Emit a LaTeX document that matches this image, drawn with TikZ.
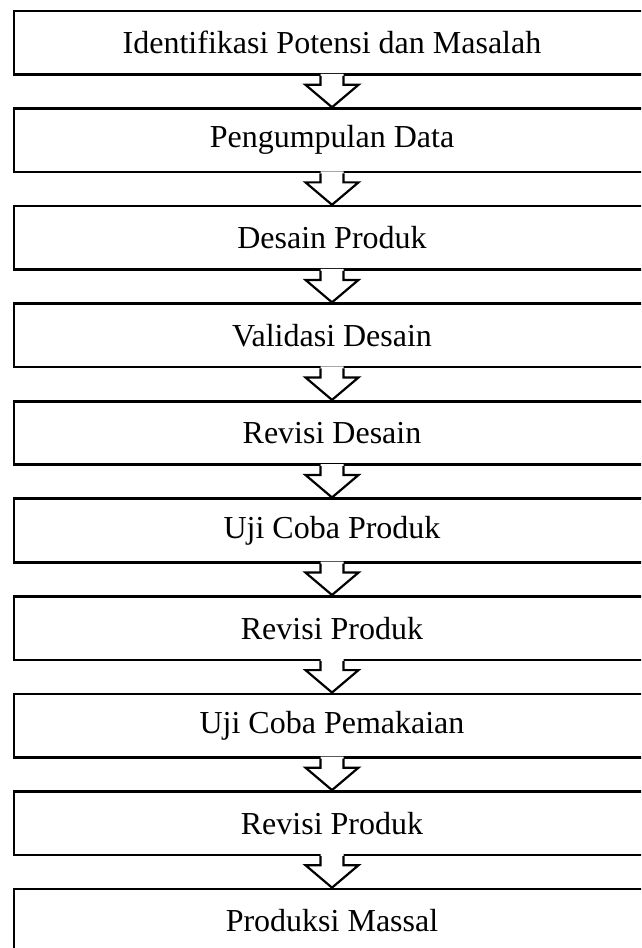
\documentclass[tikz,border=0pt]{standalone}
\usepackage{fontspec}
\setmainfont{Liberation Serif}

\tikzstyle{box} = [draw, line width=2.6pt, minimum width=636pt, minimum height=63.5pt, font=\fontsize{32}{38}\selectfont]
\tikzstyle{arrow} = [line width=2.2pt, line join=miter]

\newcommand{\blockarrow}[2]{%
\fill [white] ([xshift=-11.5pt, yshift=2pt]#1.south) -- ([xshift=-11.5pt, yshift=-9pt]#1.south) -- ([xshift=-26.5pt, yshift=-9pt]#1.south) -- (#2.north) -- ([xshift=26.5pt, yshift=-9pt]#1.south) -- ([xshift=11.5pt, yshift=-9pt]#1.south) -- ([xshift=11.5pt, yshift=2pt]#1.south) -- cycle;
\draw [arrow] ([xshift=-11.5pt]#1.south) -- ([xshift=-11.5pt, yshift=-9pt]#1.south) -- ([xshift=-26.5pt, yshift=-9pt]#1.south) -- (#2.north) -- ([xshift=26.5pt, yshift=-9pt]#1.south) -- ([xshift=11.5pt, yshift=-9pt]#1.south) -- ([xshift=11.5pt]#1.south);
}

\begin{document}
\begin{tikzpicture}[node distance=97.55pt]
\useasboundingbox (0,0) rectangle (641pt,-948pt);
\clip (0,0) rectangle (641pt,-948pt);

\node (1) [box] at (332pt,-42.75pt) {Identifikasi Potensi dan Masalah};
\node (2) [box, below of=1] {Pengumpulan Data};
\node (3) [box, below of=2] {Desain Produk};
\node (4) [box, below of=3] {Validasi Desain};
\node (5) [box, below of=4] {Revisi Desain};
\node (6) [box, below of=5] {Uji Coba Produk};
\node (7) [box, below of=6] {Revisi Produk};
\node (8) [box, below of=7] {Uji Coba Pemakaian};
\node (9) [box, below of=8] {Revisi Produk};
\node (10) [box, below of=9] {Produksi Massal};

\blockarrow{1}{2}
\blockarrow{2}{3}
\blockarrow{3}{4}
\blockarrow{4}{5}
\blockarrow{5}{6}
\blockarrow{6}{7}
\blockarrow{7}{8}
\blockarrow{8}{9}
\blockarrow{9}{10}

\end{tikzpicture}
\end{document}
